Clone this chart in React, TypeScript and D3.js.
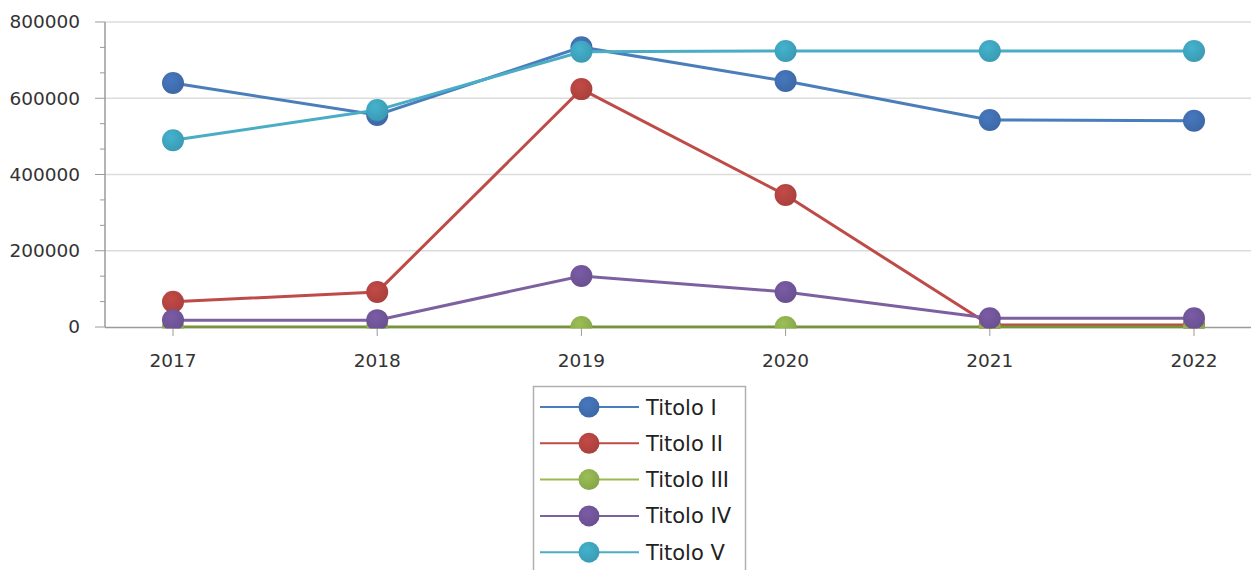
import React, { useRef, useEffect } from 'react';
import * as d3 from 'd3';

const years = ['2017', '2018', '2019', '2020', '2021', '2022'];
const seriesNames = ['Titolo I', 'Titolo II', 'Titolo III', 'Titolo IV', 'Titolo V'];
const titoloI = [640000, 556000, 734000, 645000, 543000, 541000];
const titoloII = [66000, 92000, 624000, 346000, 5000, 5000];
const titoloIII = [0, 0, 0, 0, 0, 0];
const titoloIV = [18000, 18000, 134000, 92000, 23000, 23000];
const titoloV = [490000, 569000, 722000, 724000, 724000, 724000];
const yTicks = [0, 200000, 400000, 600000, 800000];

const lineColors = ['#4a7ebb', '#be4b48', '#98b954', '#7d60a0', '#4bacc6'];
const dotColors = ['#3d68a6', '#a9403d', '#86a64a', '#6a5090', '#3b9bb3'];

const App: React.FC = () => {
  const svgRef = useRef<SVGSVGElement>(null);

  useEffect(() => {
    if (!svgRef.current) return;
    const svg = d3.select(svgRef.current);
    svg.selectAll('*').remove();
    const width = 1251;
    const font = 'Tahoma, "DejaVu Sans", sans-serif';

    const x = d3.scalePoint<string>().domain(years).range([173, 1194]);
    const y = d3.scaleLinear().domain([0, 800000]).range([327, 22]);
    const left = 105;

    const defs = svg.append('defs');
    dotColors.forEach((c, i) => {
      const g = defs.append('radialGradient').attr('id', `dot${i}`)
        .attr('cx', '40%').attr('cy', '35%').attr('r', '65%');
      g.append('stop').attr('offset', '0%').attr('stop-color', d3.color(c)!.brighter(0.4).toString());
      g.append('stop').attr('offset', '100%').attr('stop-color', c);
    });
    defs.append('clipPath').attr('id', 'plotClip').append('rect')
      .attr('x', left).attr('y', 0).attr('width', width - left).attr('height', y(0) + 1.5);

    // gridlines
    svg.append('g').selectAll('line').data(yTicks.slice(1)).enter().append('line')
      .attr('x1', left).attr('x2', width).attr('y1', d => y(d)).attr('y2', d => y(d))
      .attr('stroke', '#dcdcdc').attr('stroke-width', 1.5);

    // x axis line
    svg.append('line').attr('x1', left).attr('x2', width).attr('y1', y(0) + 0.5).attr('y2', y(0) + 0.5)
      .attr('stroke', '#9a9a9a').attr('stroke-width', 1.5);

    // y axis
    svg.append('line').attr('x1', left).attr('x2', left).attr('y1', y(800000)).attr('y2', y(0))
      .attr('stroke', '#9a9a9a').attr('stroke-width', 1.5);
    const minor = d3.range(0, 800001, 800000 / 12);
    svg.append('g').selectAll('line').data(minor).enter().append('line')
      .attr('x1', (d, i) => (i % 3 === 0 ? left - 10 : left - 5)).attr('x2', left)
      .attr('y1', d => y(d)).attr('y2', d => y(d))
      .attr('stroke', '#9a9a9a').attr('stroke-width', 1);
    svg.append('g').selectAll('text').data(yTicks).enter().append('text')
      .attr('x', 80).attr('y', d => y(d)).attr('dy', '0.35em').attr('text-anchor', 'end')
      .attr('font-family', font).attr('font-size', 18.5).attr('fill', '#333')
      .text(d => String(d));

    // x ticks
    svg.append('g').selectAll('line').data(years).enter().append('line')
      .attr('x1', d => x(d)!).attr('x2', d => x(d)!).attr('y1', y(0)).attr('y2', y(0) + 9)
      .attr('stroke', '#9a9a9a').attr('stroke-width', 1);
    svg.append('g').selectAll('text').data(years).enter().append('text')
      .attr('x', d => x(d)!).attr('y', 367).attr('text-anchor', 'middle')
      .attr('font-family', font).attr('font-size', 18.5).attr('fill', '#333')
      .text(d => d);

    const plot = svg.append('g').attr('clip-path', 'url(#plotClip)');
    const allSeries = [titoloI, titoloII, titoloIII, titoloIV, titoloV];
    const line = d3.line<number>().x((d, i) => x(years[i])!).y(d => y(d));
    allSeries.forEach((vals, si) => {
      const g = plot.append('g');
      g.append('path').attr('d', line(vals)!).attr('fill', 'none')
        .attr('stroke', si === 2 ? '#77933c' : lineColors[si]).attr('stroke-width', 3);
      g.selectAll('circle').data(vals).enter().append('circle')
        .attr('cx', (d, i) => x(years[i])!).attr('cy', d => y(d)).attr('r', 11)
        .attr('fill', `url(#dot${si})`);
    });

    // legend
    const lg = svg.append('g');
    lg.append('rect').attr('x', 533.5).attr('y', 386.5).attr('width', 212).attr('height', 200)
      .attr('fill', '#fff').attr('stroke', '#b0b0b0').attr('stroke-width', 1.5);
    seriesNames.forEach((name, i) => {
      const cy = 407 + i * 36.3;
      lg.append('line').attr('x1', 540).attr('x2', 639).attr('y1', cy).attr('y2', cy)
        .attr('stroke', lineColors[i]).attr('stroke-width', 2);
      lg.append('circle').attr('cx', 589).attr('cy', cy).attr('r', 10.5).attr('fill', `url(#dot${i})`);
      lg.append('text').attr('x', 646).attr('y', cy).attr('dy', '0.36em')
        .attr('font-family', font).attr('font-size', 21).attr('fill', '#222').text(name);
    });
  }, []);

  return <svg ref={svgRef} width={1251} height={570} style={{ position: 'absolute', left: 0, top: 0 }}></svg>;
};

export default App;
